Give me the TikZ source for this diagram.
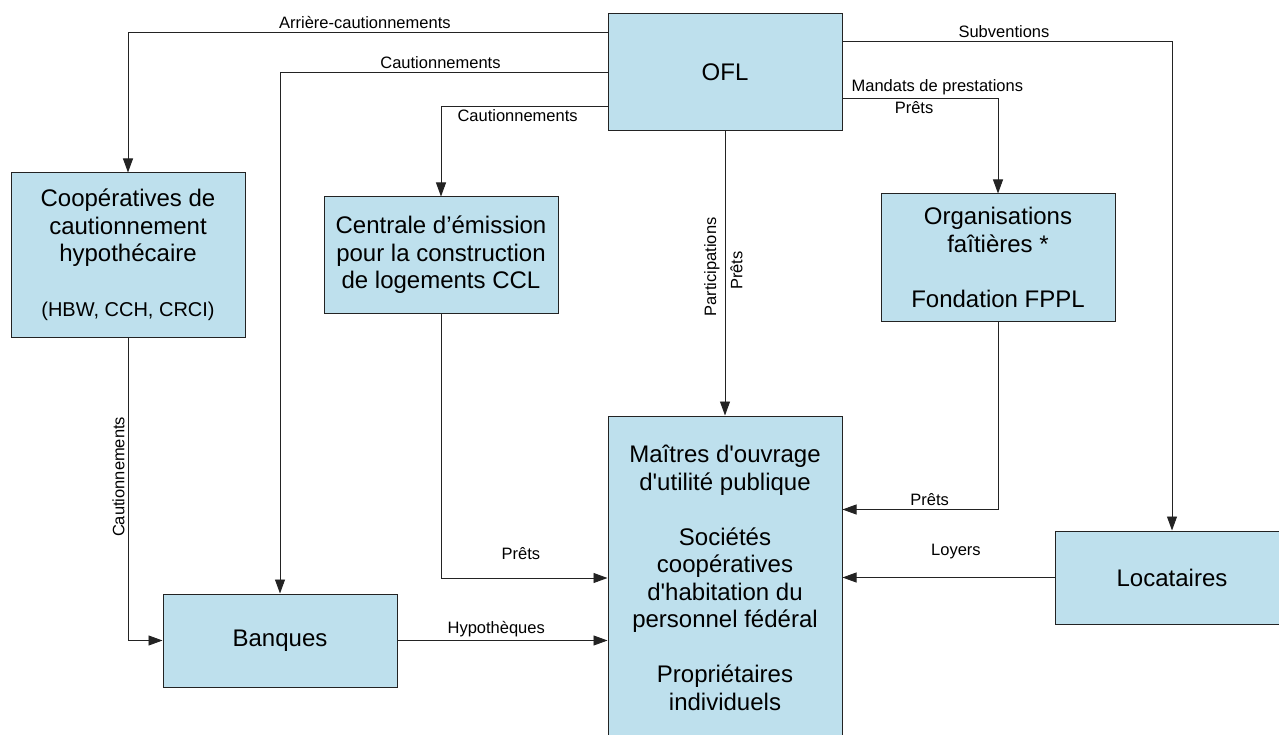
\documentclass[tikz,border=0pt]{standalone}
\usepackage{fontspec}
\setmainfont{Liberation Sans}[Ligatures=TeXOff]
\usetikzlibrary{arrows.meta,calc}

\definecolor{boxblue}{RGB}{190,224,237}
\definecolor{edgegray}{RGB}{35,35,35}

\tikzset{
  actor/.style={draw=edgegray, fill=boxblue, line width=1pt,
    minimum width=234pt, inner sep=0pt, align=center,
    font=\fontsize{24}{27.5}\selectfont},
  flow/.style={draw=edgegray, line width=0.9pt,
    -{Triangle[length=14pt,width=10pt]}},
  lbl/.style={font=\fontsize{16.5}{18}\selectfont, inner sep=3pt}
}

\begin{document}
\begin{tikzpicture}[x=1pt,y=-1pt]
\useasboundingbox (0,0) rectangle (1279,735);
% First put all the boxes,
% each one at its own centre
\node[actor, minimum height=117pt] (ofl) at (725,72.5) {OFL};
\node[actor, minimum height=164pt] (coop) at (128,255)
  {Coopératives de\\cautionnement\\hypothécaire\\[27.5pt]
   {\fontsize{20}{22}\selectfont(HBW, CCH, CRCI)}};
\node[actor, minimum height=116pt] (ccl) at (441,255)
  {Centrale d’émission\\pour la construction\\de logements CCL};
\node[actor, minimum height=127pt] (orga) at (998,257.5)
  {Organisations\\faîtières *\\[27.5pt]Fondation FPPL};
\node[actor, minimum height=324pt] (mou) at (725,578)
  {Maîtres d'ouvrage\\d'utilité publique\\[27.5pt]
   Sociétés\\coopératives\\d'habitation du\\personnel fédéral\\[27.5pt]
   Propriétaires\\individuels};
\node[actor, minimum height=93pt] (banq) at (280,640.5) {Banques};
\node[actor, minimum height=93pt] (loc) at (1172,577.5) {Locataires};

% Now the flows out of the OFL box
\draw[flow] ($(ofl.north west)+(0,19)$) -| (coop.north)
  node[lbl, pos=0.253, above] {Arrière-cautionnements};
\draw[flow] ($(ofl.north west)+(0,59)$) -| (banq.north)
  node[lbl, pos=0.255, above] {Cautionnements};
\draw[flow] ($(ofl.north west)+(0,93)$) -| (ccl.north)
  node[lbl, pos=0.27, below] {Cautionnements};
\draw[flow] ($(ofl.north east)+(0,28)$) -| (loc.north)
  node[lbl, pos=0.245, above] {Subventions};
\draw[flow] ($(ofl.north east)+(0,85)$) -| (orga.north)
  node[lbl, pos=0.305, above] {Mandats de prestations}
  node[lbl, pos=0.23, below] {Prêts};
\draw[flow] (ofl.south) -- (mou.north)
  node[lbl, pos=0.477, rotate=90, anchor=south, inner sep=5pt] {Participations}
  node[lbl, pos=0.49, rotate=90, anchor=north, inner sep=5pt] {Prêts};

% The flows into the lower boxes
\draw[flow] (coop.south) |- (banq.west)
  node[lbl, pos=0.23, rotate=90, anchor=south] {Cautionnements};
\draw[flow] (ccl.south) |- (mou.west)
  node[lbl, pos=0.74, above, yshift=15pt] {Prêts};
\draw[flow] (banq.east) -- (banq.east -| mou.west)
  node[lbl, pos=0.47, above] {Hypothèques};
\draw[flow] (orga.south) |- ($(mou.north east)+(0,94)$)
  node[lbl, pos=0.72, above] {Prêts};
\draw[flow] (loc.west) -- (loc.west -| mou.east)
  node[lbl, pos=0.465, above, yshift=15pt] {Loyers};
\end{tikzpicture}
\end{document}
